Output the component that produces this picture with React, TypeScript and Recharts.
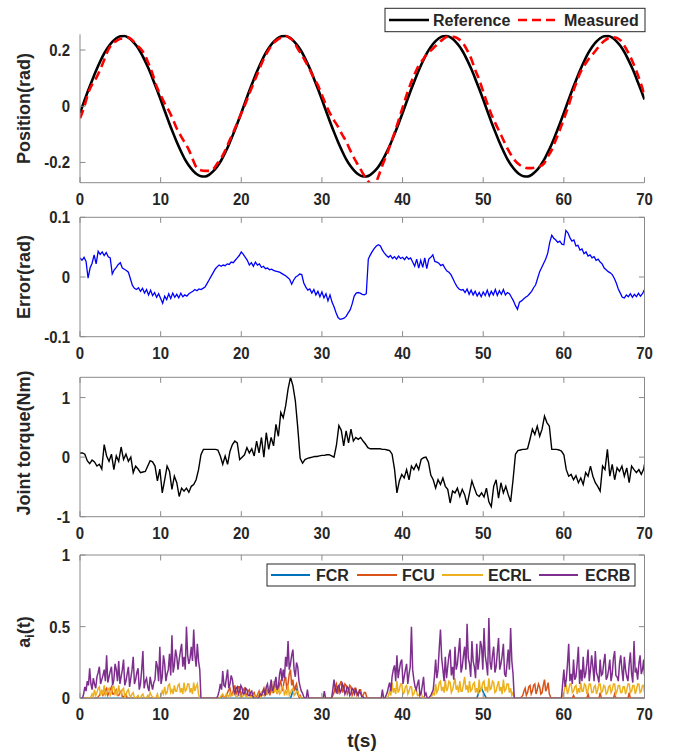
import React from "react";
import { LineChart, Line, XAxis, YAxis } from "recharts";

const W = 673;
const H = 756;
const X0 = 80;
const X1 = 644.5;
const FONT = "'Liberation Sans', Arial, Helvetica, sans-serif";
const INK = "#262626";
const AXIS = "#8a8a8a";
const TICK = 5.5;

const xTicks = [0, 10, 20, 30, 40, 50, 60, 70];

// sample spacing (s) of each recorded series
const POS_STEP = 0.5;
const ERR_STEP = 0.25;
const TQ_STEP = 0.3;
const ACT_STEP = 0.3;
const ACT_FINE_STEP = 0.15;

const reference = [
  -0.024, 0.016, 0.055, 0.092, 0.127, 0.159, 0.188, 0.211, 0.229, 0.242, 0.249, 0.25, 0.244, 0.232, 0.215, 0.193, 0.165, 0.134, 0.099, 0.062,
  0.024, -0.016, -0.055, -0.092, -0.127, -0.159, -0.188, -0.211, -0.229, -0.242, -0.249, -0.25, -0.244, -0.232, -0.215, -0.193, -0.165, -0.134, -0.099, -0.062,
  -0.024, 0.016, 0.055, 0.092, 0.127, 0.159, 0.188, 0.211, 0.229, 0.242, 0.249, 0.25, 0.244, 0.232, 0.215, 0.193, 0.165, 0.134, 0.099, 0.062,
  0.024, -0.016, -0.055, -0.092, -0.127, -0.159, -0.188, -0.211, -0.229, -0.242, -0.249, -0.25, -0.244, -0.232, -0.215, -0.193, -0.165, -0.134, -0.099, -0.062,
  -0.024, 0.016, 0.055, 0.092, 0.127, 0.159, 0.188, 0.211, 0.229, 0.242, 0.249, 0.25, 0.244, 0.232, 0.215, 0.193, 0.165, 0.134, 0.099, 0.062,
  0.024, -0.016, -0.055, -0.092, -0.127, -0.159, -0.188, -0.211, -0.229, -0.242, -0.249, -0.25, -0.244, -0.232, -0.215, -0.193, -0.165, -0.134, -0.099, -0.062,
  -0.024, 0.016, 0.055, 0.092, 0.127, 0.159, 0.188, 0.211, 0.229, 0.242, 0.249, 0.25, 0.244, 0.232, 0.215, 0.193, 0.165, 0.134, 0.099, 0.062,
  0.024,
];

const measured = [
  -0.043, -0.005, 0.045, 0.078, 0.1, 0.13, 0.165, 0.2, 0.222, 0.232, 0.24, 0.242, 0.244, 0.235, 0.218, 0.205, 0.185, 0.152, 0.115, 0.07,
  0.04, 0.01, -0.015, -0.045, -0.079, -0.105, -0.13, -0.155, -0.19, -0.22, -0.228, -0.23, -0.23, -0.224, -0.205, -0.185, -0.158, -0.125, -0.093, -0.06,
  -0.025, 0.008, 0.045, 0.08, 0.115, 0.15, 0.18, 0.205, 0.225, 0.237, 0.245, 0.25, 0.243, 0.23, 0.205, 0.182, 0.157, 0.13, 0.1, 0.075,
  0.04, 0.005, -0.025, -0.05, -0.073, -0.1, -0.125, -0.156, -0.185, -0.21, -0.235, -0.258, -0.275, -0.28, -0.25, -0.21, -0.175, -0.135, -0.095, -0.05,
  -0.005, 0.04, 0.08, 0.115, 0.145, 0.165, 0.185, 0.198, 0.212, 0.226, 0.238, 0.247, 0.247, 0.246, 0.238, 0.224, 0.2, 0.17, 0.13, 0.095,
  0.052, 0.01, -0.028, -0.06, -0.09, -0.12, -0.15, -0.175, -0.195, -0.208, -0.216, -0.22, -0.22, -0.218, -0.214, -0.205, -0.18, -0.155, -0.12, -0.085,
  -0.045, -0.005, 0.04, 0.08, 0.117, 0.143, 0.165, 0.182, 0.2, 0.218, 0.232, 0.242, 0.245, 0.244, 0.235, 0.215, 0.19, 0.16, 0.125, 0.085,
  0.04,
];

const errorRad = [
  0.032, 0.028, 0.033, 0.026, -0.002, 0.015, 0.023, 0.037, 0.022, 0.043, 0.038, 0.042, 0.036, 0.041, 0.034, 0.032, 0.005, 0.012, 0.016, 0.021,
  0.024, 0.015, 0.013, 0.011, 0.008, -0.003, -0.014, -0.019, -0.021, -0.018, -0.024, -0.019, -0.027, -0.021, -0.03, -0.022, -0.031, -0.026, -0.034, -0.028,
  -0.036, -0.044, -0.032, -0.038, -0.028, -0.036, -0.027, -0.034, -0.029, -0.035, -0.027, -0.033, -0.03, -0.032, -0.028, -0.026, -0.024, -0.021, -0.023, -0.02,
  -0.021, -0.019, -0.017, -0.011, -0.005, 0.001, 0.007, 0.013, 0.017, 0.02, 0.018, 0.02, 0.019, 0.022, 0.021, 0.025, 0.024, 0.028, 0.032, 0.036,
  0.042, 0.038, 0.033, 0.028, 0.02, 0.024, 0.018, 0.025, 0.02, 0.022, 0.016, 0.018, 0.014, 0.015, 0.012, 0.013, 0.011, 0.01, 0.009, 0.008,
  0.006, 0.004, 0.002, -0.001, -0.004, -0.012, -0.005, 0.0, 0.002, 0.005, 0.004, -0.01, -0.017, -0.022, -0.02, -0.027, -0.021, -0.03, -0.024, -0.033,
  -0.025, -0.035, -0.028, -0.04, -0.03, -0.042, -0.05, -0.06, -0.068, -0.071, -0.07, -0.069, -0.066, -0.06, -0.055, -0.045, -0.032, -0.027, -0.026, -0.027,
  -0.029, -0.03, -0.028, 0.03, 0.037, 0.043, 0.048, 0.052, 0.054, 0.052, 0.045, 0.04, 0.036, 0.033, 0.036, 0.031, 0.034, 0.03, 0.035, 0.031,
  0.033, 0.029, 0.034, 0.03, 0.032, 0.025, 0.018, 0.03, 0.015, 0.028, 0.016, 0.032, 0.014, 0.03, 0.033, 0.037, 0.026, 0.025, 0.023, 0.019,
  0.021, 0.015, 0.01, 0.008, 0.004, -0.003, -0.01, -0.016, -0.02, -0.022, -0.021, -0.026, -0.02, -0.029, -0.022, -0.03, -0.024, -0.032, -0.026, -0.033,
  -0.025, -0.031, -0.022, -0.032, -0.024, -0.03, -0.021, -0.031, -0.023, -0.029, -0.021, -0.03, -0.026, -0.028, -0.034, -0.04, -0.048, -0.054, -0.042, -0.04,
  -0.037, -0.034, -0.032, -0.028, -0.024, -0.018, -0.013, -0.002, 0.009, 0.016, 0.023, 0.03, 0.04, 0.058, 0.07, 0.065, 0.062, 0.058, 0.06, 0.055,
  0.054, 0.078, 0.074, 0.066, 0.06, 0.062, 0.052, 0.053, 0.045, 0.047, 0.039, 0.042, 0.035, 0.037, 0.032, 0.034, 0.028, 0.03, 0.025, 0.022,
  0.015, 0.012, 0.009, 0.007, 0.004, -0.002, -0.01, -0.02, -0.027, -0.034, -0.035, -0.03, -0.033, -0.028, -0.034, -0.029, -0.033, -0.027, -0.032, -0.028,
  -0.021,
];

const torque = [
  0.07, 0.07, 0.05, -0.06, -0.11, -0.05, -0.08, -0.15, -0.12, -0.2, 0.21, 0.02, -0.07, 0.05, -0.21, 0.02, -0.07, 0.17, -0.04, 0.05,
  -0.07, 0.0, -0.26, -0.15, -0.2, -0.26, -0.25, -0.24, -0.15, -0.06, -0.08, -0.15, -0.4, -0.2, -0.6, -0.38, -0.15, -0.24, -0.54, -0.32,
  -0.43, -0.66, -0.52, -0.57, -0.52, -0.59, -0.49, -0.46, -0.38, -0.21, 0.04, 0.13, 0.13, 0.13, 0.13, 0.13, 0.13, 0.12, 0.02, -0.12,
  0.02, -0.12, 0.1, 0.21, 0.27, 0.24, -0.04, 0.0, 0.04, 0.16, 0.07, 0.14, 0.02, 0.27, 0.07, 0.33, 0.0, 0.41, 0.13, 0.33,
  0.19, 0.55, 0.35, 0.75, 0.66, 0.86, 1.14, 1.34, 1.2, 0.95, 0.5, -0.02, -0.1, -0.04, -0.02, -0.01, 0.0, 0.01, 0.01, 0.02,
  0.03, 0.03, 0.04, 0.04, 0.02, 0.0, 0.2, 0.53, 0.45, 0.19, 0.44, 0.24, 0.47, 0.27, 0.33, 0.3, 0.33, 0.27, 0.22, 0.16,
  0.14, 0.14, 0.14, 0.14, 0.14, 0.13, 0.13, 0.12, 0.11, 0.05, -0.2, -0.6, -0.4, -0.29, -0.35, -0.21, -0.38, -0.15, -0.21, -0.12,
  -0.21, -0.04, -0.01, 0.0, -0.08, -0.3, -0.38, -0.52, -0.38, -0.46, -0.35, -0.49, -0.54, -0.77, -0.57, -0.6, -0.52, -0.66, -0.54, -0.63,
  -0.8, -0.6, -0.4, -0.52, -0.63, -0.66, -0.6, -0.67, -0.52, -0.75, -0.83, -0.49, -0.38, -0.69, -0.43, -0.6, -0.49, -0.63, -0.75, -0.38,
  0.05, 0.11, 0.12, 0.13, 0.13, 0.14, 0.3, 0.47, 0.38, 0.52, 0.35, 0.47, 0.69, 0.58, 0.52, 0.13, 0.13, 0.13, 0.12, 0.1,
  0.04, -0.21, -0.32, -0.29, -0.38, -0.31, -0.43, -0.35, -0.46, -0.26, -0.32, -0.15, -0.32, -0.43, -0.49, -0.57, -0.15, -0.21, 0.13, -0.32,
  -0.12, -0.38, -0.18, -0.24, -0.15, -0.32, -0.18, -0.43, -0.15, -0.21, -0.26, -0.21, -0.29, -0.2, -0.12,
];

// muscle activations: FCR at 0.3 s
const fcr = [
  0, 0, 0, 0, 0, 0, 0, 0, 0, 0, 0, 0, 0, 0, 0, 0, 0, 0, 0, 0,
  0, 0, 0, 0, 0, 0, 0, 0, 0, 0, 0, 0, 0, 0, 0, 0, 0, 0, 0, 0,
  0, 0, 0, 0, 0, 0, 0, 0, 0, 0, 0, 0, 0, 0, 0, 0, 0, 0, 0, 0,
  0, 0, 0, 0, 0, 0, 0, 0, 0, 0, 0, 0, 0, 0, 0, 0, 0, 0, 0, 0,
  0, 0, 0, 0, 0, 0, 0, 0, 0.05, 0.08, 0.03, 0, 0, 0, 0, 0, 0, 0, 0, 0,
  0, 0, 0, 0, 0, 0, 0, 0, 0, 0, 0, 0, 0, 0, 0, 0, 0, 0, 0, 0,
  0, 0, 0, 0, 0, 0, 0, 0, 0, 0, 0, 0, 0, 0, 0, 0, 0, 0, 0, 0,
  0, 0, 0, 0, 0, 0, 0, 0, 0, 0, 0, 0, 0, 0, 0, 0, 0, 0, 0, 0,
  0, 0, 0, 0, 0, 0.05, 0.07, 0.03, 0, 0, 0, 0, 0, 0, 0, 0, 0, 0, 0, 0,
  0, 0, 0, 0, 0, 0, 0, 0, 0, 0, 0, 0, 0, 0, 0, 0, 0, 0, 0, 0,
  0, 0, 0, 0, 0, 0, 0, 0, 0, 0, 0, 0, 0, 0, 0, 0, 0, 0, 0, 0,
  0, 0, 0, 0, 0, 0, 0, 0, 0, 0, 0, 0, 0, 0, 0,
];

// FCU, ECRL and ECRB at 0.15 s
const fcu = [
  0, 0, 0, 0, 0, 0, 0, 0, 0, 0, 0, 0, 0, 0, 0, 0.01, 0.02, 0.04, 0.05, 0.02,
  0.03, 0.06, 0.07, 0.02, 0.04, 0.06, 0.08, 0.03, 0.03, 0.05, 0.06, 0.02, 0.02, 0.04, 0.05, 0.01, 0.01, 0.02, 0.03, 0,
  0, 0, 0, 0, 0, 0, 0, 0, 0, 0, 0, 0, 0, 0, 0, 0, 0, 0, 0, 0,
  0, 0, 0, 0, 0, 0, 0, 0, 0, 0, 0, 0, 0, 0, 0, 0, 0, 0, 0, 0,
  0, 0, 0, 0, 0, 0, 0, 0, 0, 0, 0, 0, 0, 0, 0, 0, 0, 0, 0, 0,
  0, 0, 0, 0, 0, 0, 0, 0, 0, 0, 0, 0, 0, 0, 0, 0, 0, 0.01, 0.02, 0.01,
  0, 0.02, 0.04, 0.06, 0.07, 0.02, 0.03, 0.06, 0.09, 0.03, 0.05, 0.08, 0.08, 0.02, 0.04, 0.06, 0.07, 0.02, 0.03, 0.05,
  0.06, 0.01, 0.02, 0.03, 0.04, 0.01, 0.01, 0.03, 0.05, 0.01, 0.02, 0.05, 0.07, 0.02, 0.03, 0.05, 0.06, 0.02, 0.09, 0.04,
  0.04, 0.08, 0.1, 0.03, 0.06, 0.1, 0.12, 0.05, 0.08, 0.13, 0.15, 0.06, 0.1, 0.17, 0.2, 0.09, 0.13, 0.05, 0.08, 0.1,
  0.05, 0.01, 0.02, 0, 0, 0, 0, 0, 0, 0, 0, 0, 0, 0, 0, 0, 0, 0, 0, 0,
  0, 0, 0, 0, 0, 0, 0, 0, 0, 0.02, 0.04, 0.08, 0.1, 0.03, 0.07, 0.1, 0.12, 0.04, 0.06, 0.1,
  0.09, 0.03, 0.05, 0.09, 0.08, 0.02, 0.04, 0.07, 0.07, 0.02, 0.03, 0.06, 0.06, 0.01, 0.02, 0.04, 0.04, 0.01, 0, 0,
  0, 0, 0, 0, 0, 0, 0, 0, 0, 0, 0, 0, 0, 0, 0, 0, 0, 0, 0, 0,
  0, 0, 0, 0, 0, 0, 0, 0, 0, 0, 0, 0, 0, 0, 0, 0, 0, 0, 0, 0,
  0, 0, 0, 0, 0, 0, 0, 0, 0, 0, 0, 0, 0, 0, 0, 0, 0, 0, 0, 0,
  0, 0, 0, 0, 0, 0, 0, 0, 0, 0, 0, 0, 0, 0, 0, 0, 0, 0, 0, 0,
  0, 0, 0, 0, 0, 0, 0, 0, 0, 0, 0, 0, 0, 0, 0, 0, 0, 0, 0, 0,
  0, 0, 0, 0, 0, 0, 0, 0, 0, 0, 0, 0, 0, 0, 0, 0, 0, 0, 0, 0,
  0, 0, 0, 0, 0, 0.01, 0.02, 0.05, 0.07, 0.02, 0.04, 0.08, 0.09, 0.03, 0.05, 0.09, 0.1, 0.03, 0.06, 0.1,
  0.08, 0.03, 0.04, 0.09, 0.13, 0.05, 0.07, 0.11, 0.03, 0.01, 0, 0, 0, 0, 0, 0, 0, 0, 0, 0,
  0, 0, 0, 0, 0, 0, 0, 0, 0.02, 0, 0, 0, 0, 0, 0, 0, 0, 0, 0, 0,
  0.03, 0, 0, 0, 0, 0, 0, 0, 0, 0, 0.04, 0, 0, 0, 0, 0, 0, 0, 0, 0,
  0, 0, 0.03, 0, 0, 0, 0, 0, 0, 0, 0, 0, 0, 0, 0.04, 0, 0, 0, 0, 0,
  0, 0, 0, 0, 0, 0, 0, 0, 0,
];

const ecrl = [
  0, 0, 0, 0, 0, 0, 0, 0, 0, 0.01, 0.03, 0.01, 0.06, 0.02, 0.04, 0.07, 0.08, 0.02, 0.05, 0.03,
  0.09, 0.02, 0.03, 0.06, 0.07, 0.02, 0.04, 0.08, 0.08, 0.03, 0.05, 0.02, 0.09, 0.04, 0.03, 0.06, 0.07, 0.01, 0.02, 0.05,
  0.06, 0.02, 0.01, 0.03, 0.04, 0, 0, 0.01, 0.02, 0, 0, 0.02, 0.03, 0, 0, 0, 0.02, 0.01, 0.04, 0.02,
  0.01, 0, 0, 0.01, 0.03, 0, 0, 0.02, 0.05, 0.03, 0.08, 0.03, 0.04, 0.09, 0.1, 0.04, 0.06, 0.03, 0.09, 0.05,
  0.05, 0.09, 0.1, 0.04, 0.07, 0.03, 0.11, 0.05, 0.06, 0.1, 0.1, 0.04, 0.07, 0.03, 0.11, 0.05, 0.08, 0.1, 0.03, 0,
  0, 0, 0, 0, 0, 0, 0, 0, 0, 0, 0, 0, 0, 0, 0, 0, 0.01, 0.02, 0.03, 0.01,
  0.01, 0.03, 0.02, 0.01, 0.04, 0.02, 0.02, 0.04, 0.03, 0.01, 0.01, 0.03, 0.02, 0.01, 0.01, 0.02, 0.03, 0.01, 0.01, 0,
  0, 0.01, 0.01, 0, 0.02, 0.01, 0, 0.01, 0.03, 0.01, 0.05, 0.02, 0.02, 0.05, 0.07, 0.03, 0.04, 0.08, 0.1, 0.04,
  0.12, 0.05, 0.06, 0.03, 0.09, 0.03, 0.04, 0.08, 0.08, 0.02, 0.05, 0.03, 0.09, 0.02, 0.04, 0.06, 0.07, 0.02, 0.03, 0.05,
  0.05, 0.02, 0.01, 0, 0, 0, 0, 0, 0, 0, 0, 0, 0, 0, 0, 0, 0, 0, 0, 0,
  0, 0, 0, 0, 0, 0, 0, 0, 0, 0, 0, 0, 0, 0, 0, 0, 0, 0, 0, 0,
  0, 0, 0, 0, 0, 0, 0, 0, 0, 0, 0, 0, 0, 0, 0, 0, 0, 0, 0, 0,
  0, 0, 0, 0, 0, 0, 0, 0, 0, 0, 0, 0, 0, 0, 0, 0.02, 0.05, 0.02, 0.11, 0.04,
  0.07, 0.03, 0.12, 0.04, 0.06, 0.1, 0.1, 0.03, 0.04, 0.08, 0.09, 0.03, 0.05, 0.08, 0.08, 0.02, 0.03, 0.06, 0.06, 0.02,
  0.02, 0.04, 0.04, 0.01, 0.01, 0, 0, 0, 0, 0, 0, 0.02, 0.04, 0.02, 0.1, 0.04, 0.06, 0.11, 0.12, 0.05,
  0.08, 0.04, 0.13, 0.05, 0.07, 0.12, 0.11, 0.04, 0.06, 0.1, 0.14, 0.06, 0.08, 0.04, 0.12, 0.05, 0.05, 0.1, 0.15, 0.06,
  0.09, 0.04, 0.12, 0.05, 0.06, 0.1, 0.11, 0.04, 0.07, 0.03, 0.13, 0.05, 0.06, 0.11, 0.12, 0.05, 0.08, 0.04, 0.14, 0.06,
  0.07, 0.12, 0.11, 0.04, 0.05, 0.09, 0.12, 0.05, 0.08, 0.03, 0.13, 0.05, 0.06, 0.1, 0.1, 0.04, 0.07, 0.02, 0.04, 0,
  0, 0, 0, 0, 0, 0, 0, 0, 0, 0, 0, 0, 0, 0, 0, 0, 0, 0, 0, 0,
  0, 0, 0, 0, 0, 0, 0, 0, 0, 0, 0, 0, 0, 0, 0, 0, 0, 0, 0, 0.02,
  0.04, 0.08, 0.09, 0.03, 0.06, 0.1, 0.1, 0.04, 0.05, 0.08, 0.09, 0.03, 0.07, 0.04, 0.11, 0.05, 0.05, 0.1, 0.09, 0.03,
  0.06, 0.1, 0.1, 0.04, 0.04, 0.08, 0.09, 0.03, 0.06, 0.1, 0.1, 0.04, 0.05, 0.09, 0.08, 0.03, 0.04, 0.08, 0.09, 0.04,
  0.06, 0.1, 0.1, 0.03, 0.05, 0.09, 0.09, 0.04, 0.04, 0.08, 0.08, 0.03, 0.06, 0.1, 0.1, 0.04, 0.05, 0.09, 0.09, 0.03,
  0.06, 0.1, 0.1, 0.04, 0.05, 0.09, 0.09, 0.04, 0.07,
];

const ecrb = [
  0, 0, 0, 0.03, 0.08, 0.05, 0.12, 0.09, 0.21, 0.1, 0.06, 0.14, 0.1, 0.07, 0.15, 0.18, 0.22, 0.1, 0.13, 0.16,
  0.2, 0.12, 0.3, 0.11, 0.15, 0.19, 0.22, 0.09, 0.13, 0.24, 0.2, 0.12, 0.26, 0.1, 0.15, 0.2, 0.27, 0.09, 0.12, 0.17,
  0.22, 0.08, 0.14, 0.2, 0.29, 0.1, 0.13, 0.18, 0.21, 0.06, 0.1, 0.2, 0.33, 0.07, 0.12, 0.14, 0.08, 0.05, 0.15, 0.1,
  0.06, 0.11, 0.13, 0.26, 0.22, 0.12, 0.36, 0.1, 0.15, 0.3, 0.24, 0.12, 0.17, 0.2, 0.31, 0.16, 0.44, 0.18, 0.23, 0.34,
  0.29, 0.2, 0.27, 0.33, 0.38, 0.22, 0.29, 0.2, 0.5, 0.3, 0.24, 0.28, 0.36, 0.26, 0.48, 0.3, 0.22, 0.38, 0.26, 0.2,
  0, 0, 0, 0, 0, 0, 0, 0, 0, 0, 0, 0, 0, 0, 0.02, 0.05, 0.1, 0.06, 0.19, 0.09,
  0.08, 0.14, 0.2, 0.07, 0.1, 0.16, 0.13, 0.06, 0.035, 0.07, 0.08, 0.03, 0.05, 0.09, 0.07, 0.03, 0.035, 0.07, 0.06, 0.02,
  0.02, 0.04, 0.05, 0.01, 0, 0, 0, 0, 0.01, 0.03, 0.02, 0.04, 0.06, 0.02, 0.08, 0.1, 0.035, 0.06, 0.13, 0.05,
  0.07, 0.11, 0.15, 0.06, 0.08, 0.17, 0.21, 0.12, 0.2, 0.14, 0.29, 0.22, 0.4, 0.2, 0.24, 0.3, 0.34, 0.2, 0.15, 0.25,
  0.22, 0.12, 0.08, 0.05, 0.035, 0.01, 0, 0, 0.06, 0, 0, 0, 0, 0, 0, 0, 0, 0, 0, 0,
  0, 0, 0.05, 0, 0, 0, 0, 0, 0, 0.06, 0.13, 0.07, 0.035, 0.08, 0.09, 0.04, 0.06, 0.1, 0.08, 0.03,
  0.05, 0.08, 0.07, 0.02, 0.035, 0.07, 0.06, 0.03, 0.06, 0.04, 0.02, 0.05, 0.035, 0.01, 0.01, 0, 0, 0, 0, 0,
  0, 0, 0, 0, 0, 0, 0, 0, 0, 0, 0.06, 0, 0, 0.02, 0.04, 0.08, 0.11, 0.05, 0.15, 0.2,
  0.23, 0.12, 0.3, 0.14, 0.2, 0.25, 0.27, 0.1, 0.15, 0.2, 0.24, 0.1, 0.17, 0.22, 0.5, 0.2, 0.13, 0.08, 0.06, 0.1,
  0.13, 0.02, 0.035, 0.09, 0.15, 0.02, 0.035, 0, 0, 0.01, 0.02, 0.04, 0.06, 0.15, 0.27, 0.14, 0.2, 0.35, 0.48, 0.28,
  0.2, 0.12, 0.29, 0.14, 0.22, 0.3, 0.34, 0.16, 0.22, 0.13, 0.36, 0.2, 0.24, 0.33, 0.42, 0.18, 0.22, 0.3, 0.36, 0.2,
  0.52, 0.28, 0.24, 0.15, 0.4, 0.26, 0.22, 0.14, 0.38, 0.2, 0.27, 0.4, 0.36, 0.2, 0.49, 0.3, 0.24, 0.16, 0.56, 0.25,
  0.2, 0.3, 0.36, 0.18, 0.22, 0.32, 0.42, 0.2, 0.24, 0.3, 0.38, 0.17, 0.15, 0.24, 0.34, 0.2, 0.49, 0.26, 0.17, 0,
  0, 0, 0, 0, 0, 0, 0, 0, 0, 0, 0, 0, 0, 0, 0, 0, 0, 0, 0, 0,
  0, 0, 0, 0, 0, 0, 0, 0, 0, 0, 0, 0, 0, 0, 0, 0, 0, 0, 0, 0.1,
  0.2, 0.08, 0.13, 0.24, 0.38, 0.12, 0.17, 0.1, 0.27, 0.13, 0.15, 0.24, 0.36, 0.1, 0.2, 0.12, 0.29, 0.14, 0.17, 0.24,
  0.34, 0.12, 0.2, 0.3, 0.22, 0.12, 0.33, 0.18, 0.15, 0.11, 0.27, 0.16, 0.17, 0.25, 0.31, 0.13, 0.15, 0.2, 0.27, 0.12,
  0.17, 0.28, 0.33, 0.16, 0.15, 0.12, 0.24, 0.3, 0.2, 0.12, 0.29, 0.2, 0.15, 0.12, 0.24, 0.32, 0.17, 0.11, 0.4, 0.18,
  0.2, 0.13, 0.24, 0.3, 0.17, 0.2, 0.27, 0.16, 0.23,
];

const timeAt = (step: number, i: number) => Math.min(70, Math.round(i * step * 100) / 100);

const posData = reference.map((r, i) => ({ t: timeAt(POS_STEP, i), ref: r, meas: measured[i] }));
const errData = errorRad.map((e, i) => ({ t: timeAt(ERR_STEP, i), err: e }));
const tqData = torque.map((v, i) => ({ t: timeAt(TQ_STEP, i), tq: v }));
const fcrData = fcr.map((v, i) => ({ t: timeAt(ACT_STEP, i), fcr: v }));
const fcuData = fcu.map((v, i) => ({ t: timeAt(ACT_FINE_STEP, i), fcu: v }));
const ecrlData = ecrl.map((v, i) => ({ t: timeAt(ACT_FINE_STEP, i), ecrl: v }));
const ecrbData = ecrb.map((v, i) => ({ t: timeAt(ACT_FINE_STEP, i), ecrb: v }));

const textStyle = { fontFamily: FONT, fontWeight: 700, fontSize: 16, fill: INK } as const;
const tickText = { fontFamily: FONT, fontWeight: 700, fontSize: 17, fill: INK } as const;

function BottomTick(props: any) {
  const { x, y, payload } = props;
  return (
    <g>
      <line x1={x} y1={y} x2={x} y2={y - TICK} stroke={AXIS} />
      <text {...tickText} textAnchor="middle" transform={`translate(${x},${y + 22}) scale(0.88,1)`}>
        {payload.value}
      </text>
    </g>
  );
}

function TopTick(props: any) {
  const { x, y } = props;
  return <line x1={x} y1={y} x2={x} y2={y + TICK} stroke={AXIS} />;
}

function LeftTick(props: any) {
  const { x, y, payload } = props;
  return (
    <g>
      <line x1={x} y1={y} x2={x + TICK} y2={y} stroke={AXIS} />
      <text {...tickText} textAnchor="end" transform={`translate(${x - 10},${y + 6}) scale(0.88,1)`}>
        {payload.value}
      </text>
    </g>
  );
}

function RightTick(props: any) {
  const { x, y } = props;
  return <line x1={x} y1={y} x2={x - TICK} y2={y} stroke={AXIS} />;
}

function Panel({ data, top, bottom, yDomain, yTicks, box, children }: any) {
  const topH = box ? 10 : 0;
  const rightW = box ? 10 : 0;
  const margin = { top: top - topH, bottom: H - bottom - 30, left: X0 - 60, right: W - X1 - rightW };
  return (
    <div style={{ position: "absolute", left: 0, top: 0 }}>
      <LineChart width={W} height={H} data={data} margin={margin}>
        <XAxis xAxisId="b" dataKey="t" type="number" domain={[0, 70]} ticks={xTicks} interval={0}
          height={30} tickSize={0} tickMargin={0} stroke={AXIS} tick={BottomTick} allowDataOverflow />
        {box && (
          <XAxis xAxisId="t" orientation="top" dataKey="t" type="number" domain={[0, 70]} ticks={xTicks}
            interval={0} height={topH} tickSize={0} tickMargin={0} stroke={AXIS} tick={TopTick} allowDataOverflow />
        )}
        <YAxis yAxisId="l" type="number" domain={yDomain} ticks={yTicks} interval={0} width={60}
          tickSize={0} tickMargin={0} stroke={AXIS} tick={LeftTick} allowDataOverflow />
        {box && (
          <YAxis yAxisId="r" orientation="right" type="number" domain={yDomain} ticks={yTicks} interval={0}
            width={rightW} tickSize={0} tickMargin={0} stroke={AXIS} tick={RightTick} allowDataOverflow />
        )}
        {children}
      </LineChart>
    </div>
  );
}

function YLabel({ x, y, children }: any) {
  return (
    <text x={0} y={0} transform={`translate(${x},${y}) rotate(-90)`} textAnchor="middle"
      style={{ fontFamily: FONT, fontWeight: 700, fontSize: 18, fill: INK }}>
      {children}
    </text>
  );
}

export default function App() {
  const lineProps = { xAxisId: "b", yAxisId: "l", dot: false, isAnimationActive: false, type: "linear" as const };
  return (
    <div style={{ position: "absolute", left: 0, top: 0, width: W, height: H, background: "#fff" }}>
      <Panel data={posData} top={34.3} bottom={182.7} yDomain={[-0.272, 0.256]} yTicks={[-0.2, 0, 0.2]} box={false}>
        <Line {...lineProps} type="monotone" dataKey="ref" stroke="#000000" strokeWidth={2.6} />
        <Line {...lineProps} type="monotone" dataKey="meas" stroke="#ff0000" strokeWidth={2.6} strokeDasharray="9 5" />
      </Panel>
      <Panel data={errData} top={217.3} bottom={336.7} yDomain={[-0.1, 0.1]} yTicks={[-0.1, 0, 0.1]} box>
        <Line {...lineProps} dataKey="err" stroke="#0000ff" strokeWidth={1.3} />
      </Panel>
      <Panel data={tqData} top={377.3} bottom={516.7} yDomain={[-1, 1.34]} yTicks={[-1, 0, 1]} box>
        <Line {...lineProps} dataKey="tq" stroke="#000000" strokeWidth={1.4} />
      </Panel>
      <Panel data={ecrbData} top={555} bottom={698.3} yDomain={[0, 1]} yTicks={[0, 0.5, 1]} box>
        <Line {...lineProps} data={fcrData} dataKey="fcr" stroke="#0072BD" strokeWidth={1.6} />
        <Line {...lineProps} data={fcuData} dataKey="fcu" stroke="#D95319" strokeWidth={1.5} />
        <Line {...lineProps} data={ecrlData} dataKey="ecrl" stroke="#EDB120" strokeWidth={1.5} />
        <Line {...lineProps} data={ecrbData} dataKey="ecrb" stroke="#7E2F8E" strokeWidth={1.5} />
      </Panel>

      <svg width={W} height={H} style={{ position: "absolute", left: 0, top: 0, pointerEvents: "none" }}>
        <YLabel x={30} y={108.5}>Position(rad)</YLabel>
        <YLabel x={30} y={277}>Error(rad)</YLabel>
        <YLabel x={30} y={443}>Joint torque(Nm)</YLabel>
        <text transform={`translate(30,632) rotate(-90)`} textAnchor="middle"
          style={{ fontFamily: FONT, fontWeight: 700, fontSize: 18, fill: INK }}>
          a<tspan fontSize={12} dy={4}>i</tspan><tspan dy={-4}>(t)</tspan>
        </text>
        <text x={362} y={747} textAnchor="middle" style={{ fontFamily: FONT, fontWeight: 700, fontSize: 19, fill: INK }}>
          t(s)
        </text>

        <g>
          <rect x={385} y={8.3} width={260} height={23.4} fill="#fff" stroke="#262626" strokeWidth={1} />
          <line x1={389} y1={20} x2={429} y2={20} stroke="#000" strokeWidth={2.6} />
          <text x={433} y={26} {...textStyle}>Reference</text>
          <line x1={518} y1={20} x2={558} y2={20} stroke="#ff0000" strokeWidth={2.6} strokeDasharray="9 5" />
          <text x={564} y={26} {...textStyle}>Measured</text>
        </g>

        <g>
          <rect x={267} y={564} width={368} height={22} fill="#fff" stroke="#262626" strokeWidth={1} />
          <line x1={271} y1={575} x2={310} y2={575} stroke="#0072BD" strokeWidth={2} />
          <text x={316} y={581} {...textStyle}>FCR</text>
          <line x1={357} y1={575} x2={397} y2={575} stroke="#D95319" strokeWidth={2} />
          <text x={402} y={581} {...textStyle}>FCU</text>
          <line x1={442} y1={575} x2={483} y2={575} stroke="#EDB120" strokeWidth={2} />
          <text x={488} y={581} {...textStyle}>ECRL</text>
          <line x1={539} y1={575} x2={578} y2={575} stroke="#7E2F8E" strokeWidth={2} />
          <text x={585} y={581} {...textStyle}>ECRB</text>
        </g>
      </svg>
    </div>
  );
}
